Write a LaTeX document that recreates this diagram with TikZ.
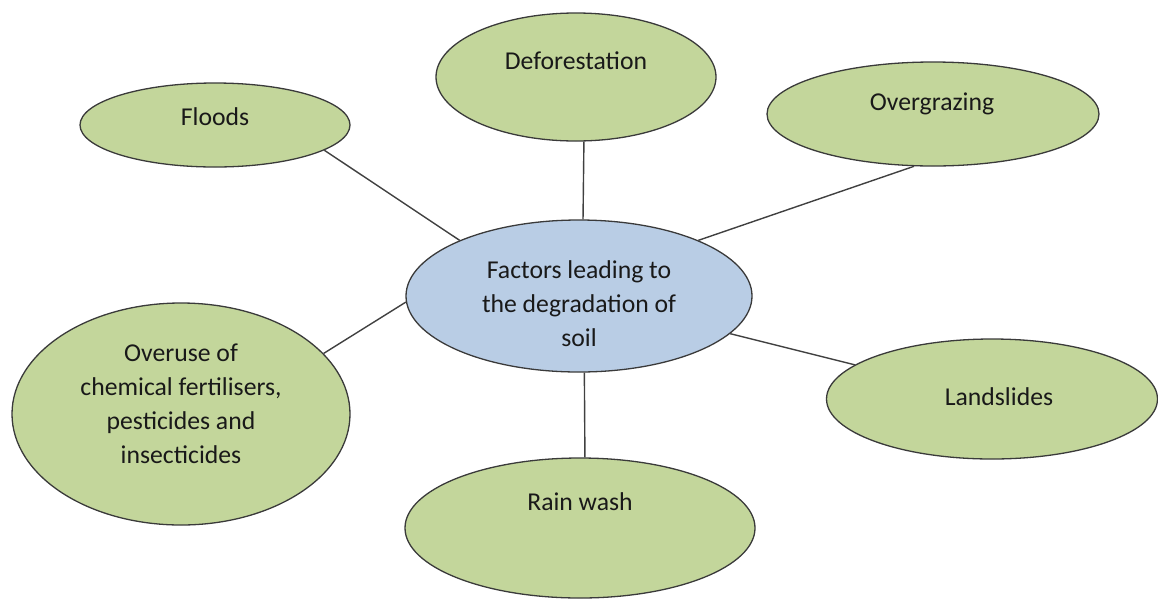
\documentclass[tikz,border=0pt]{standalone}
\usepackage{fontspec}
\setmainfont{Carlito}
\usetikzlibrary{shapes.geometric}
\definecolor{leaf}{HTML}{C3D69B}
\definecolor{sky}{HTML}{B9CDE5}
\definecolor{rim}{HTML}{3A3A3A}
\definecolor{wire}{HTML}{404040}
\tikzset{
  bubble/.style={ellipse, draw=rim, line width=1.3pt, fill=leaf, inner sep=0pt},
  hub/.style={bubble, fill=sky},
  caption/.style={align=center, inner sep=0pt, text=black!90,
    font=\fontsize{25.7}{34}\selectfont},
  wirelink/.style={draw=wire, line width=1.4pt}
}
\begin{document}
\begin{tikzpicture}[x=1pt, y=-1pt]
\useasboundingbox (0,0) rectangle (1158,598);
% ellipses
\node[hub, minimum width=346pt, minimum height=152pt] (ct) at (579,296) {};
\node[bubble, minimum width=270pt, minimum height=84pt] (fl) at (215,125) {};
\node[bubble, minimum width=280pt, minimum height=128pt] (df) at (576,77) {};
\node[bubble, minimum width=332pt, minimum height=104pt] (og) at (933,114) {};
\node[bubble, minimum width=338pt, minimum height=222pt] (ou) at (181,414) {};
\node[bubble, minimum width=331pt, minimum height=120pt] (ls) at (992,399) {};
\node[bubble, minimum width=350pt, minimum height=140pt] (rw) at (580,528) {};
% texts
\node[caption] (ct-t) at (579,304) {Factors leading to\\the degradation of\\soil};
\node[caption] (fl-t) at (215,117) {Floods};
\node[caption] (df-t) at (576,61) {Deforestation};
\node[caption] (og-t) at (932,104) {Overgrazing};
\node[caption] (ou-t) at (181,404) {Overuse of\\chemical fertilisers,\\pesticides and\\insecticides};
\node[caption] (ls-t) at (999,397) {Landslides};
\node[caption] (rw-t) at (580,502) {Rain wash};
% connectors
\draw[wirelink] (fl.-13.2) -- (ct.155.7);
\draw[wirelink] (df.-83.8) -- (ct.87);
\draw[wirelink] (og.-110.7) -- (ct.25.4);
\draw[wirelink] (ou.23.2) -- (ct.182.3);
\draw[wirelink] (ls.166.4) -- (ct.-14.9);
\draw[wirelink] (rw.86.7) -- (ct.-86.2);
\end{tikzpicture}
\end{document}
